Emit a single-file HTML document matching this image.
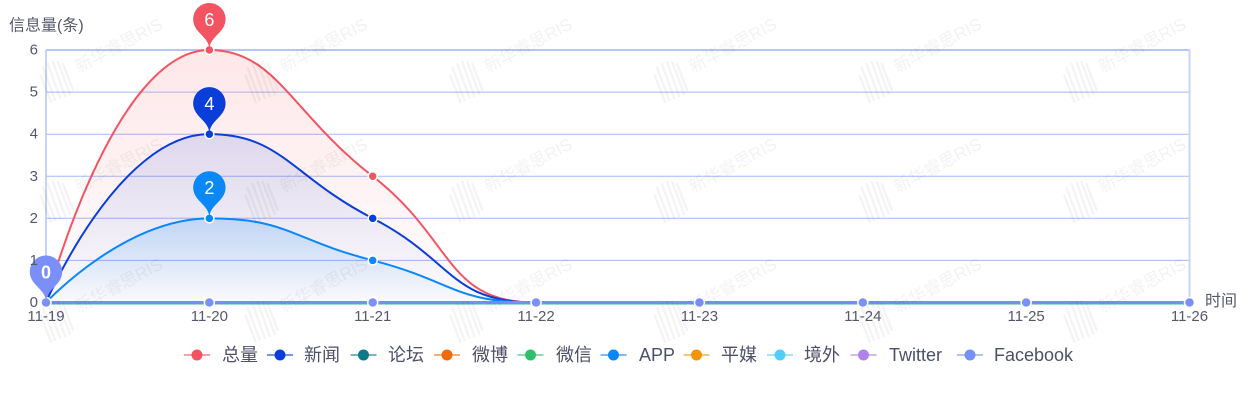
<!DOCTYPE html>
<html>
<head>
<meta charset="utf-8">
<style>
  html, body { margin: 0; padding: 0; background: #ffffff; }
  body { width: 1260px; height: 400px; overflow: hidden; }
  svg { display: block; }
  text { font-family: "Liberation Sans", "Noto Sans CJK SC", sans-serif; }
</style>
</head>
<body>
<svg width="1260" height="400" viewBox="0 0 1260 400" xmlns="http://www.w3.org/2000/svg">
  <defs>
    <linearGradient id="gRed" x1="0" y1="0" x2="0" y2="1">
      <stop offset="0" stop-color="rgb(242,84,97)" stop-opacity="0.14"/>
      <stop offset="1" stop-color="rgb(242,84,97)" stop-opacity="0.01"/>
    </linearGradient>
    <linearGradient id="gNews" x1="0" y1="0" x2="0" y2="1">
      <stop offset="0" stop-color="rgb(11,62,216)" stop-opacity="0.13"/>
      <stop offset="1" stop-color="rgb(11,62,216)" stop-opacity="0.01"/>
    </linearGradient>
    <linearGradient id="gApp" x1="0" y1="0" x2="0" y2="1">
      <stop offset="0" stop-color="rgb(10,136,248)" stop-opacity="0.2"/>
      <stop offset="1" stop-color="rgb(10,136,248)" stop-opacity="0.01"/>
    </linearGradient>
    <path id="pin" d="M-14.64,-23.914 A16.2,16.2 0 1 1 14.64,-23.914 C10.47,-15.13 0,-11.34 0,0 C0,-11.34 -10.47,-15.13 -14.64,-23.914 Z"/>
  </defs>

  <!-- grid -->
  <g fill="none">
    <line x1="46" y1="92.1" x2="1189.5" y2="92.1" stroke="#a3b8f8" stroke-width="1"/>
    <line x1="46" y1="134.2" x2="1189.5" y2="134.2" stroke="#a3b8f8" stroke-width="1"/>
    <line x1="46" y1="176.25" x2="1189.5" y2="176.25" stroke="#a3b8f8" stroke-width="1"/>
    <line x1="46" y1="218.3" x2="1189.5" y2="218.3" stroke="#a3b8f8" stroke-width="1"/>
    <line x1="46" y1="260.4" x2="1189.5" y2="260.4" stroke="#a3b8f8" stroke-width="1"/>
    <line x1="46" y1="50" x2="1189.5" y2="50" stroke="#b3c5fa" stroke-width="2"/>
    <line x1="46" y1="50" x2="46" y2="302.5" stroke="#b3c5fa" stroke-width="1.5"/>
    <line x1="1189.5" y1="49" x2="1189.5" y2="302.5" stroke="#c8d4fb" stroke-width="2"/>
  </g>

  <!-- areas -->
  <path d="M46,302.5 C46,302.5 112.5,50 209.36,50 C275.86,50 291.03,113.13 372.71,176.25 C454.39,239.38 444.87,302.5 536.07,302.5 L1189.5,302.5 L46,302.5 Z" fill="url(#gRed)"/>
  <path d="M46,302.5 C46,302.5 117.76,134.17 209.36,134.17 C281.12,134.17 291.03,176.25 372.71,218.33 C454.39,260.41 449.59,302.5 536.07,302.5 L1189.5,302.5 L46,302.5 Z" fill="url(#gNews)"/>
  <path d="M46,302.5 C46,302.5 124.19,218.33 209.36,218.33 C287.54,218.33 291.03,239.38 372.71,260.42 C454.39,281.46 453.08,302.5 536.07,302.5 L1189.5,302.5 L46,302.5 Z" fill="url(#gApp)"/>

  <!-- lines -->
  <g fill="none" stroke-width="2" stroke-linejoin="round">
    <path d="M46,302.5 C46,302.5 112.5,50 209.36,50 C275.86,50 291.03,113.13 372.71,176.25 C454.39,239.38 444.87,302.5 536.07,302.5" stroke="#f25461"/>
    <path d="M46,302.5 C46,302.5 117.76,134.17 209.36,134.17 C281.12,134.17 291.03,176.25 372.71,218.33 C454.39,260.41 449.59,302.5 536.07,302.5" stroke="#0b3ed8"/>
    <path d="M46,302.5 C46,302.5 124.19,218.33 209.36,218.33 C287.54,218.33 291.03,239.38 372.71,260.42 C454.39,281.46 453.08,302.5 536.07,302.5" stroke="#0a88f8"/>
  </g>

  <!-- bottom zero lines -->
  <line x1="46" y1="304.3" x2="1189.5" y2="304.3" stroke="#62c3b0" stroke-width="1" opacity="0.8"/>
  <line x1="46" y1="302.5" x2="1189.5" y2="302.5" stroke="#7090f2" stroke-width="3"/>

  <!-- data dots -->
  <g stroke="#ffffff" stroke-width="1.5">
    <circle cx="209.36" cy="50" r="4.5" fill="#f25461"/>
    <circle cx="372.71" cy="176.25" r="4.5" fill="#f25461"/>
    <circle cx="209.36" cy="134.17" r="4.5" fill="#0b3ed8"/>
    <circle cx="372.71" cy="218.33" r="4.5" fill="#0b3ed8"/>
    <circle cx="209.36" cy="218.33" r="4.5" fill="#0a88f8"/>
    <circle cx="372.71" cy="260.42" r="4.5" fill="#0a88f8"/>
    <circle cx="46" cy="302.5" r="5" fill="#7b91fa"/>
    <circle cx="209.36" cy="302.5" r="5" fill="#7b91fa"/>
    <circle cx="372.71" cy="302.5" r="5" fill="#7b91fa"/>
    <circle cx="536.07" cy="302.5" r="5" fill="#7b91fa"/>
    <circle cx="699.43" cy="302.5" r="5" fill="#7b91fa"/>
    <circle cx="862.79" cy="302.5" r="5" fill="#7b91fa"/>
    <circle cx="1026.14" cy="302.5" r="5" fill="#7b91fa"/>
    <circle cx="1189.5" cy="302.5" r="5" fill="#7b91fa"/>
  </g>

  <!-- pins -->
  <g>
    <use href="#pin" transform="translate(209.36,50)" fill="#f25461"/>
    <text x="209.36" y="19.8" fill="#ffffff" font-size="18" text-anchor="middle" dominant-baseline="central">6</text>
    <use href="#pin" transform="translate(209.36,134.17)" fill="#0b3ed8"/>
    <text x="209.36" y="104" fill="#ffffff" font-size="18" text-anchor="middle" dominant-baseline="central">4</text>
    <use href="#pin" transform="translate(209.36,218.33)" fill="#0a88f8"/>
    <text x="209.36" y="188.1" fill="#ffffff" font-size="18" text-anchor="middle" dominant-baseline="central">2</text>
    <use href="#pin" transform="translate(46,302.5)" fill="#7b8ff9"/>
    <text x="46" y="272.3" fill="#ffffff" font-size="18" font-weight="bold" text-anchor="middle" dominant-baseline="central">0</text>
  </g>

  <!-- axis labels -->
  <g fill="#55586c" font-size="15">
    <text x="9" y="26" font-size="16" dominant-baseline="central">信息量(条)</text>
    <g text-anchor="end" dominant-baseline="central">
      <text x="38" y="50">6</text>
      <text x="38" y="92.1">5</text>
      <text x="38" y="134.2">4</text>
      <text x="38" y="176.25">3</text>
      <text x="38" y="218.3">2</text>
      <text x="38" y="260.4">1</text>
      <text x="38" y="302.5">0</text>
    </g>
    <g text-anchor="middle" dominant-baseline="central">
      <text x="46" y="316.7">11-19</text>
      <text x="209.36" y="316.7">11-20</text>
      <text x="372.71" y="316.7">11-21</text>
      <text x="536.07" y="316.7">11-22</text>
      <text x="699.43" y="316.7">11-23</text>
      <text x="862.79" y="316.7">11-24</text>
      <text x="1026.14" y="316.7">11-25</text>
      <text x="1189.5" y="316.7">11-26</text>
    </g>
    <text x="1205" y="301.5" font-size="16" dominant-baseline="central">时间</text>
  </g>

  <!-- legend -->
  <g font-size="18" fill="#4d5069" dominant-baseline="central">
    <line x1="184" y1="355" x2="210" y2="355" stroke="#f25461" stroke-width="2" opacity="0.55"/>
    <circle cx="197" cy="355" r="5.5" fill="#f25461"/>
    <text x="222" y="355">总量</text>

    <line x1="267" y1="355" x2="293" y2="355" stroke="#0b3ed8" stroke-width="2" opacity="0.55"/>
    <circle cx="280" cy="355" r="5.5" fill="#0b3ed8"/>
    <text x="304" y="355">新闻</text>

    <line x1="350.5" y1="355" x2="376.5" y2="355" stroke="#0b7b87" stroke-width="2" opacity="0.55"/>
    <circle cx="363.5" cy="355" r="5.5" fill="#0b7b87"/>
    <text x="388" y="355">论坛</text>

    <line x1="434" y1="355" x2="460" y2="355" stroke="#f06a0a" stroke-width="2" opacity="0.55"/>
    <circle cx="447" cy="355" r="5.5" fill="#f06a0a"/>
    <text x="472" y="355">微博</text>

    <line x1="517.5" y1="355" x2="543.5" y2="355" stroke="#2fbf6c" stroke-width="2" opacity="0.55"/>
    <circle cx="530.5" cy="355" r="5.5" fill="#2fbf6c"/>
    <text x="556" y="355">微信</text>

    <line x1="600.5" y1="355" x2="626.5" y2="355" stroke="#0a86fa" stroke-width="2" opacity="0.55"/>
    <circle cx="613.5" cy="355" r="5.5" fill="#0a86fa"/>
    <text x="639" y="355">APP</text>

    <line x1="683.5" y1="355" x2="709.5" y2="355" stroke="#f0940a" stroke-width="2" opacity="0.55"/>
    <circle cx="696.5" cy="355" r="5.5" fill="#f0940a"/>
    <text x="721" y="355">平媒</text>

    <line x1="767" y1="355" x2="793" y2="355" stroke="#52cdfb" stroke-width="2" opacity="0.55"/>
    <circle cx="780" cy="355" r="5.5" fill="#52cdfb"/>
    <text x="804" y="355">境外</text>

    <line x1="850.5" y1="355" x2="876.5" y2="355" stroke="#b082ea" stroke-width="2" opacity="0.55"/>
    <circle cx="863.5" cy="355" r="5.5" fill="#b082ea"/>
    <text x="889" y="355">Twitter</text>

    <line x1="957" y1="355" x2="983" y2="355" stroke="#7690fb" stroke-width="2" opacity="0.55"/>
    <circle cx="970" cy="355" r="5.5" fill="#7690fb"/>
    <text x="994" y="355">Facebook</text>
  </g>

  <!-- watermark -->
  <g id="wm" fill="rgba(0,0,0,0.05)" stroke="none">
    <g transform="translate(39,60)">
      <g stroke="rgba(0,0,0,0.045)" stroke-width="2.5" fill="none" stroke-linecap="round">
        <path d="M4,8 L16,40"/><path d="M9,4 L21,38"/><path d="M14,2 L26,36"/><path d="M19,2 L31,34"/><path d="M24,4 L34,30"/><path d="M2,16 L12,42"/>
      </g>
      <text x="40" y="13" font-size="17" transform="rotate(-28 40 13)">新华睿思RIS</text>
    </g>
  </g>
  <g>
    <use href="#wm" transform="translate(204.7,0)"/>
    <use href="#wm" transform="translate(409.4,0)"/>
    <use href="#wm" transform="translate(614.1,0)"/>
    <use href="#wm" transform="translate(818.8,0)"/>
    <use href="#wm" transform="translate(1023.5,0)"/>
    <use href="#wm" transform="translate(0,120)"/>
    <use href="#wm" transform="translate(204.7,120)"/>
    <use href="#wm" transform="translate(409.4,120)"/>
    <use href="#wm" transform="translate(614.1,120)"/>
    <use href="#wm" transform="translate(818.8,120)"/>
    <use href="#wm" transform="translate(1023.5,120)"/>
    <use href="#wm" transform="translate(0,240)"/>
    <use href="#wm" transform="translate(204.7,240)"/>
    <use href="#wm" transform="translate(409.4,240)"/>
    <use href="#wm" transform="translate(614.1,240)"/>
    <use href="#wm" transform="translate(818.8,240)"/>
    <use href="#wm" transform="translate(1023.5,240)"/>
  </g>
</svg>
</body>
</html>
